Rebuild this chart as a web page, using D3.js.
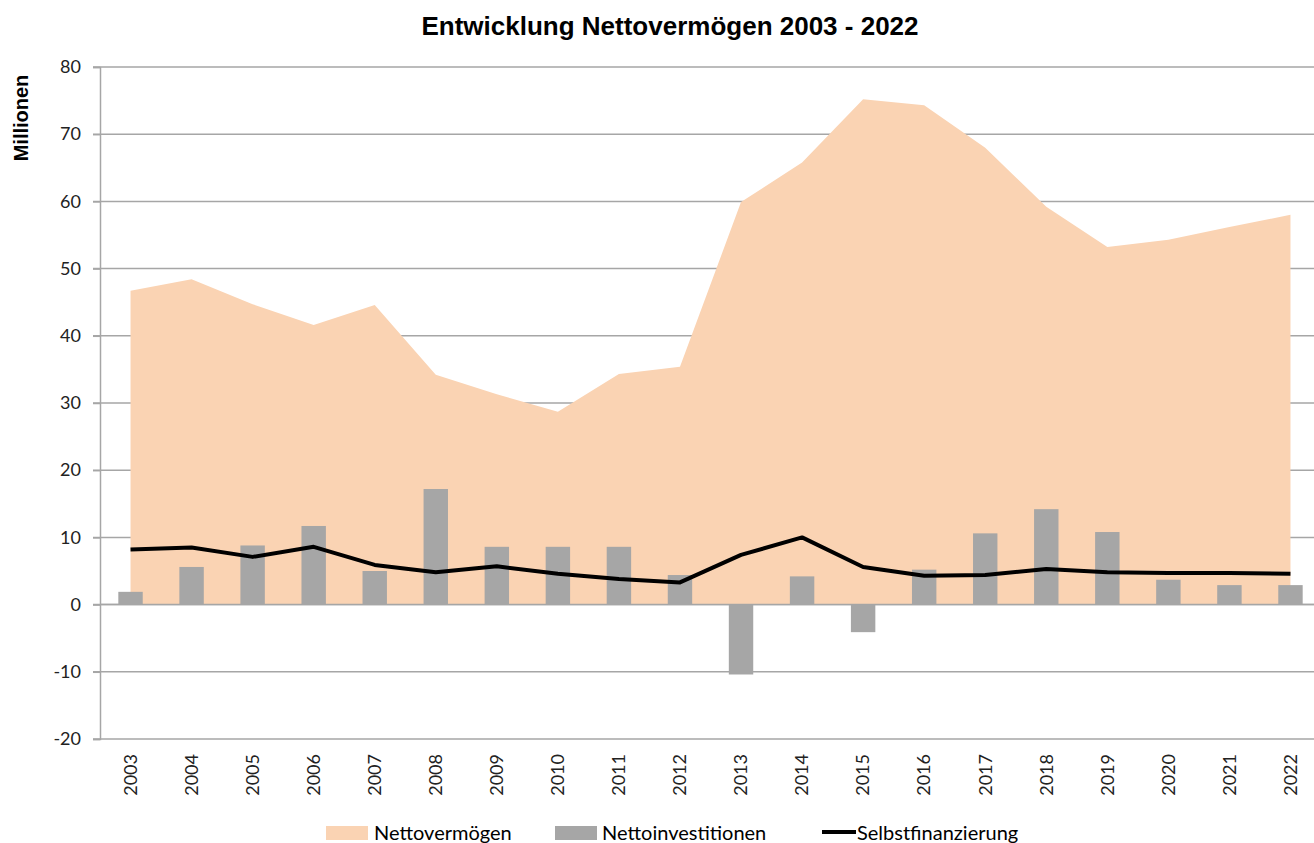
<!doctype html>
<html>
<head>
<meta charset="utf-8">
<script src="https://cdnjs.cloudflare.com/ajax/libs/d3/7.8.5/d3.min.js"></script>
<style>
  body { margin: 0; background: #fff; }
  svg { display: block; }
  .tick text { font-family: Lato, "Open Sans", sans-serif; font-size: 18px; fill: #222; }
</style>
</head>
<body>
<svg id="chart" width="1314" height="843"></svg>
<script>
const years = ["2003","2004","2005","2006","2007","2008","2009","2010","2011","2012",
               "2013","2014","2015","2016","2017","2018","2019","2020","2021","2022"];
const nettovermoegen = [46.7, 48.4, 44.7, 41.6, 44.6, 34.2, 31.3, 28.7, 34.3, 35.4,
                        59.9, 65.8, 75.2, 74.3, 68.0, 59.2, 53.2, 54.3, 56.2, 58.0];
const nettoinvestitionen = [1.9, 5.6, 8.8, 11.7, 5.0, 17.2, 8.6, 8.6, 8.6, 4.4,
                            -10.4, 4.2, -4.1, 5.2, 10.6, 14.2, 10.8, 3.7, 2.9, 2.9];
const selbstfinanzierung = [8.2, 8.5, 7.1, 8.6, 5.9, 4.8, 5.7, 4.6, 3.8, 3.3,
                            7.4, 10.0, 5.6, 4.3, 4.4, 5.3, 4.8, 4.7, 4.7, 4.6];
const yTicks = [-20, -10, 0, 10, 20, 30, 40, 50, 60, 70, 80];

const svg = d3.select("#chart");
const pLeft = 100, pRight = 1321, pTop = 67, pBottom = 739;

const x = d3.scaleBand().domain(years).range([pLeft, pRight]).paddingInner(0.6).paddingOuter(0.3);
const xc = d => x(d) + x.bandwidth() / 2;
const y = d3.scaleLinear().domain([-20, 80]).range([pBottom, pTop]);

// gridlines
svg.append("g")
  .selectAll("line")
  .data(yTicks)
  .enter()
  .append("line")
  .attr("x1", pLeft - 7).attr("x2", 1314)
  .attr("y1", d => y(d)).attr("y2", d => y(d))
  .attr("stroke", "#a6a6a6").attr("stroke-width", 1.5);

// area
const area = d3.area()
  .x((d, i) => xc(years[i]))
  .y0(y(0))
  .y1(d => y(d));
svg.append("path")
  .datum(nettovermoegen)
  .attr("d", area)
  .attr("fill", "#fad3b3");

// redraw zero line over area
svg.append("line")
  .attr("x1", pLeft).attr("x2", 1314)
  .attr("y1", y(0)).attr("y2", y(0))
  .attr("stroke", "#a6a6a6").attr("stroke-width", 1.5);

// bars
svg.append("g")
  .selectAll("rect")
  .data(nettoinvestitionen)
  .enter()
  .append("rect")
  .attr("x", (d, i) => x(years[i]))
  .attr("width", x.bandwidth())
  .attr("y", d => y(Math.max(0, d)))
  .attr("height", d => Math.abs(y(d) - y(0)))
  .attr("fill", "#a6a6a6");

// line
const line = d3.line()
  .x((d, i) => xc(years[i]))
  .y(d => y(d));
svg.append("path")
  .datum(selbstfinanzierung)
  .attr("d", line)
  .attr("fill", "none")
  .attr("stroke", "#000")
  .attr("stroke-width", 4)
  .attr("stroke-linejoin", "round");

// y axis
const yAxis = svg.append("g")
  .attr("transform", `translate(${pLeft},0)`)
  .call(d3.axisLeft(y).tickValues(yTicks).tickFormat(d => String(d)).tickSize(7).tickPadding(12));
yAxis.selectAll("line, path").attr("stroke", "#a6a6a6").attr("stroke-width", 1.5);

// x axis labels
const xAxis = svg.append("g")
  .attr("transform", `translate(0,${pBottom})`)
  .call(d3.axisBottom(x).tickSize(0));
xAxis.select("path").remove();
xAxis.selectAll("text")
  .attr("transform", "rotate(-90)")
  .attr("text-anchor", "end")
  .attr("x", -15)
  .attr("y", 0)
  .attr("dy", "0.35em");

// title
svg.append("text")
  .attr("x", 670).attr("y", 35)
  .attr("text-anchor", "middle")
  .style("font-family", "Liberation Sans, Arial, sans-serif")
  .style("font-weight", "bold")
  .style("font-size", "26px")
  .text("Entwicklung Nettovermögen 2003 - 2022");

svg.append("text")
  .attr("transform", "translate(28,118) rotate(-90)")
  .attr("text-anchor", "middle")
  .style("font-family", "Liberation Sans, Arial, sans-serif")
  .style("font-weight", "bold")
  .style("font-size", "20px")
  .text("Millionen");

// legend
const legend = svg.append("g").style("font-family", "Lato, 'Open Sans', sans-serif").style("font-size", "20px");
legend.append("rect").attr("x", 326).attr("y", 826).attr("width", 42).attr("height", 14).attr("fill", "#fad3b3");
legend.append("text").attr("x", 374).attr("y", 840).text("Nettovermögen");
legend.append("rect").attr("x", 555).attr("y", 826).attr("width", 42).attr("height", 14).attr("fill", "#a6a6a6");
legend.append("text").attr("x", 602).attr("y", 840).text("Nettoinvestitionen");
legend.append("line").attr("x1", 822).attr("x2", 856).attr("y1", 832).attr("y2", 832).attr("stroke", "#000").attr("stroke-width", 4);
legend.append("text").attr("x", 857).attr("y", 840).text("Selbstfinanzierung");
</script>
</body>
</html>
